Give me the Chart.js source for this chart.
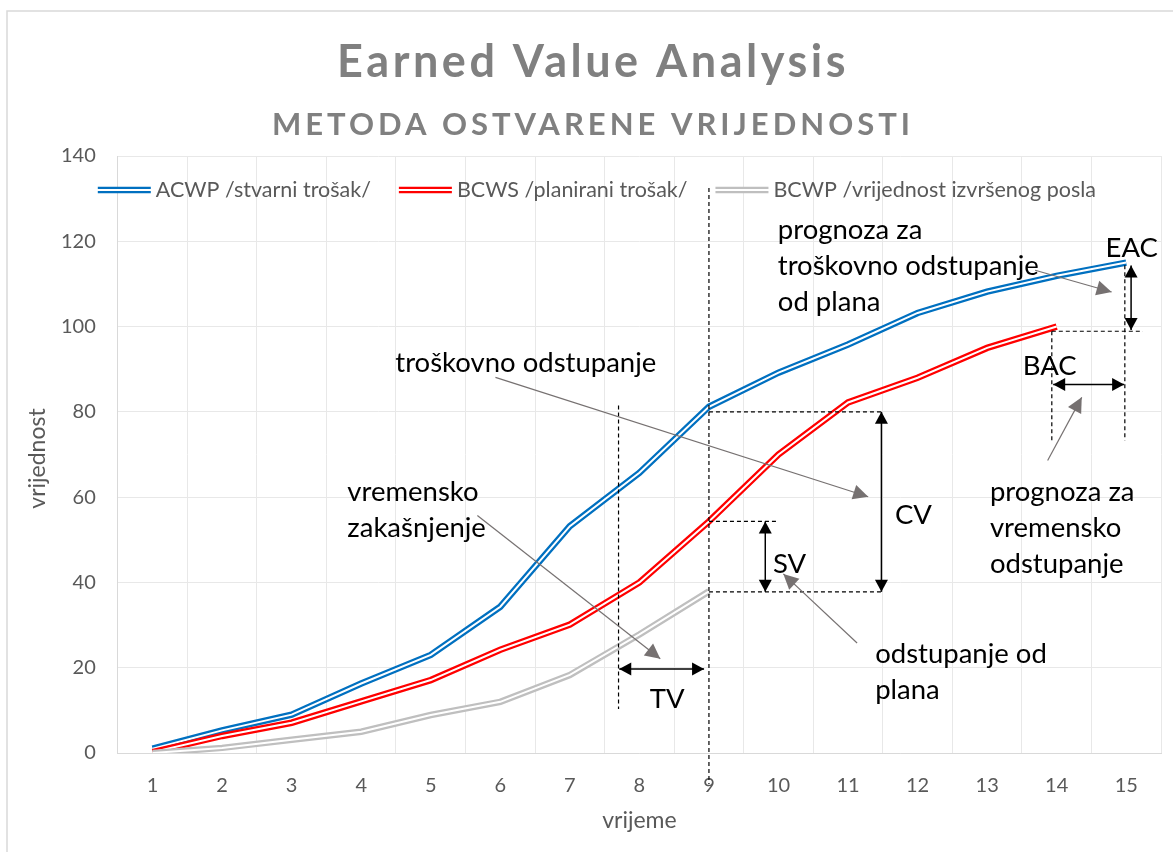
<!DOCTYPE html>
<html>
<head>
<meta charset="utf-8">
<title>Earned Value Analysis</title>
<script src="https://cdn.jsdelivr.net/npm/chart.js@4.4.1/dist/chart.umd.min.js"></script>
<style>
  html, body { margin: 0; padding: 0; background: #fff; }
  #wrap { width: 1173px; height: 852px; position: relative; }
</style>
</head>
<body>
<div id="wrap"><canvas id="evaChart"></canvas></div>
<script>
// vremenska razdoblja (x os)
const periods = ['1', '2', '3', '4', '5', '6', '7', '8', '9', '10', '11', '12', '13', '14', '15'];

// vrijednosti očitane sa slike
const acwp = [1.0, 5.3, 9.0, 16.3, 23.0, 34.3, 53.2, 65.7, 81.2, 89.2, 95.8, 103.2, 108.2, 111.9, 115.0];
const bcws = [0.2, 4.0, 7.1, 12.1, 17.1, 24.2, 30.1, 40.0, 54.3, 70.0, 82.2, 88.0, 95.0, 100.0];
const bcwp = [0.0, 1.2, 3.1, 5.0, 8.9, 12.0, 18.3, 27.8, 37.9];

const seriesNames = ['ACWP /stvarni trošak/', 'BCWS /planirani trošak/', 'BCWP /vrijednost izvršenog posla'];
const yMin = 0, yMax = 140, yStep = 20;

// anotacije u jedinicama grafa: [indeks kategorije, vrijednost]
// isprekidane pomoćne linije [x0, y0, x1, y1]
const guideLines = [
  [8, 132.5, 8, -7.3],
  [6.7, 81.5, 6.7, 10.3],
  [8, 80, 10.51, 80],
  [8, 37.8, 10.51, 37.8],
  [8, 54.3, 8.98, 54.3],
  [12.93, 98.9, 14.24, 98.9],
  [12.93, 98.9, 12.93, 73.3],
  [13.98, 114.4, 13.98, 73.3],
];
// dvostrane strelice TV, CV, SV, EAC, BAC
const measureArrows = [
  [6.71, 19.7, 7.93, 19.7],
  [10.48, 80, 10.48, 37.8],
  [8.81, 54.3, 8.81, 37.8],
  [14.07, 114.3, 14.07, 99.2],
  [12.95, 86.4, 13.97, 86.4],
];
const measureLabels = [
  ['TV', 7.40, 12.7],
  ['CV', 10.94, 55.9],
  ['SV', 9.16, 44.4],
  ['EAC', 14.08, 118.4],
  ['BAC', 12.9, 90.7],
];
// sive strelice od opisa prema mjestu
const callouts = [
  [4.93, 88.1, 10.29, 60.1],
  [4.67, 55.7, 7.30, 22.1],
  [10.13, 25.8, 9.07, 42.0],
  [12.69, 113.2, 13.79, 108.1],
  [12.87, 68.6, 13.36, 83.4],
];
const calloutTexts = [
  [['troškovno odstupanje'], 3.49, 91.4],
  [['vremensko', 'zakašnjenje'], 2.80, 61.1],
  [['odstupanje od', 'plana'], 10.39, 23.3],
  [['prognoza za', 'troškovno odstupanje', 'od plana'], 8.99, 122.6],
  [['prognoza za', 'vremensko', 'odstupanje'], 12.04, 61.1],
];

const colors = ['#0070C0', '#FF0000', '#BFBFBF'];
const FONT = 'Lato, "Open Sans", sans-serif';

// dvostruka linija: debela obojena + tanka bijela u sredini
function doubleLine(data, color, order) {
  return [
    { data, borderColor: color, borderWidth: 6.5, pointRadius: 0, tension: 0, fill: false, order: order + 1 },
    { data, borderColor: '#ffffff', borderWidth: 2, pointRadius: 0, tension: 0, fill: false, order },
  ];
}

function arrowHead(ctx, fromX, fromY, toX, toY, len, wid) {
  const a = Math.atan2(toY - fromY, toX - fromX);
  ctx.beginPath();
  ctx.moveTo(toX, toY);
  ctx.lineTo(toX - len * Math.cos(a) + wid / 2 * Math.sin(a), toY - len * Math.sin(a) - wid / 2 * Math.cos(a));
  ctx.lineTo(toX - len * Math.cos(a) - wid / 2 * Math.sin(a), toY - len * Math.sin(a) + wid / 2 * Math.cos(a));
  ctx.closePath();
  ctx.fill();
}

const overlay = {
  id: 'evaOverlay',
  beforeDraw(chart) {
    const ctx = chart.ctx;
    const area = chart.chartArea;
    ctx.save();
    ctx.fillStyle = '#fff';
    ctx.fillRect(0, 0, chart.width, chart.height);
    // rub područja grafa (samo gore i lijevo)
    ctx.strokeStyle = '#d9d9d9';
    ctx.lineWidth = 1.5;
    ctx.beginPath();
    ctx.moveTo(7, chart.height);
    ctx.lineTo(7, 11);
    ctx.lineTo(chart.width, 11);
    ctx.stroke();

    // naslov i podnaslov
    ctx.fillStyle = '#808080';
    ctx.textAlign = 'center';
    ctx.textBaseline = 'middle';
    ctx.font = 'bold 45px ' + FONT;
    ctx.letterSpacing = '3.5px';
    ctx.fillText('Earned Value Analysis', 593, 62);
    ctx.font = 'bold 31px ' + FONT;
    ctx.letterSpacing = '4px';
    ctx.fillText('METODA OSTVARENE VRIJEDNOSTI', 593, 125);
    ctx.letterSpacing = '0px';

    // nazivi osi
    ctx.fillStyle = '#595959';
    ctx.font = '23px ' + FONT;
    ctx.fillText('vrijeme', (area.left + area.right) / 2, 821);
    ctx.translate(38, (area.top + area.bottom) / 2 + 4);
    ctx.rotate(-Math.PI / 2);
    ctx.fillText('vrijednost', 0, 0);
    ctx.restore();
  },
  afterDatasetsDraw(chart) {
    const ctx = chart.ctx;
    const xs = chart.scales.x, ys = chart.scales.y;
    const px = v => xs.getPixelForValue(v);
    const py = v => ys.getPixelForValue(v);
    ctx.save();

    // isprekidane linije
    ctx.strokeStyle = '#000';
    ctx.lineWidth = 1.2;
    ctx.setLineDash([4, 3]);
    guideLines.forEach(([x0, y0, x1, y1]) => {
      ctx.beginPath();
      ctx.moveTo(px(x0), py(y0));
      ctx.lineTo(px(x1), py(y1));
      ctx.stroke();
    });
    ctx.setLineDash([]);

    // dvostrane strelice
    ctx.fillStyle = '#000';
    ctx.lineWidth = 1.5;
    measureArrows.forEach(([x0, y0, x1, y1]) => {
      const ax = px(x0), ay = py(y0), bx = px(x1), by = py(y1);
      ctx.beginPath();
      ctx.moveTo(ax, ay);
      ctx.lineTo(bx, by);
      ctx.stroke();
      arrowHead(ctx, bx, by, ax, ay, 12, 13);
      arrowHead(ctx, ax, ay, bx, by, 12, 13);
    });

    // sive strelice
    ctx.strokeStyle = '#767171';
    ctx.fillStyle = '#767171';
    ctx.lineWidth = 1.2;
    callouts.forEach(([x0, y0, x1, y1]) => {
      const ax = px(x0), ay = py(y0), bx = px(x1), by = py(y1);
      ctx.beginPath();
      ctx.moveTo(ax, ay);
      ctx.lineTo(bx, by);
      ctx.stroke();
      arrowHead(ctx, ax, ay, bx, by, 15, 15);
    });

    // tekstovi
    ctx.fillStyle = '#000';
    ctx.font = '27.5px ' + FONT;
    ctx.textBaseline = 'middle';
    ctx.textAlign = 'center';
    measureLabels.forEach(([t, x, y]) => ctx.fillText(t, px(x), py(y)));
    ctx.textAlign = 'left';
    calloutTexts.forEach(([lines, x, y]) => {
      lines.forEach((t, i) => ctx.fillText(t, px(x), py(y) + i * 36));
    });
    ctx.restore();
  },
  afterDraw(chart) {
    // legenda unutar područja crtanja
    const ctx = chart.ctx;
    const area = chart.chartArea;
    ctx.save();
    ctx.font = '21.5px ' + FONT;
    ctx.textBaseline = 'middle';
    ctx.textAlign = 'left';
    let x = area.left - 20;
    const y = area.top + 34;
    seriesNames.forEach((name, i) => {
      ctx.strokeStyle = colors[i];
      ctx.lineWidth = 6.5;
      ctx.beginPath(); ctx.moveTo(x, y); ctx.lineTo(x + 53, y); ctx.stroke();
      ctx.strokeStyle = '#fff';
      ctx.lineWidth = 2;
      ctx.beginPath(); ctx.moveTo(x - 1, y); ctx.lineTo(x + 54, y); ctx.stroke();
      ctx.fillStyle = '#595959';
      ctx.fillText(name, x + 58, y);
      x += 58 + ctx.measureText(name).width + 28;
    });
    ctx.restore();
  },
};

new Chart(document.getElementById('evaChart'), {
  type: 'line',
  data: {
    labels: periods,
    datasets: [
      ...doubleLine(acwp, colors[0], 5),
      ...doubleLine(bcws, colors[1], 3),
      ...doubleLine(bcwp, colors[2], 1),
    ],
  },
  options: {
    responsive: true,
    maintainAspectRatio: false,
    animation: false,
    layout: { padding: { top: 156, right: 12, left: 39, bottom: 33 } },
    plugins: {
      legend: { display: false },
      title: { display: false },
      tooltip: { enabled: false },
    },
    scales: {
      x: {
        offset: true,
        grid: { offset: true, color: '#e8e8e8', drawTicks: false },
        border: { color: '#d9d9d9' },
        ticks: { color: '#595959', font: { family: FONT, size: 20 }, padding: 21 },
      },
      y: {
        min: yMin,
        max: yMax,
        ticks: { stepSize: yStep, color: '#595959', font: { family: FONT, size: 20 }, padding: 22 },
        grid: { color: '#e8e8e8', drawTicks: false },
        border: { color: '#d9d9d9' },
      },
    },
  },
  plugins: [overlay],
});
</script>
</body>
</html>
